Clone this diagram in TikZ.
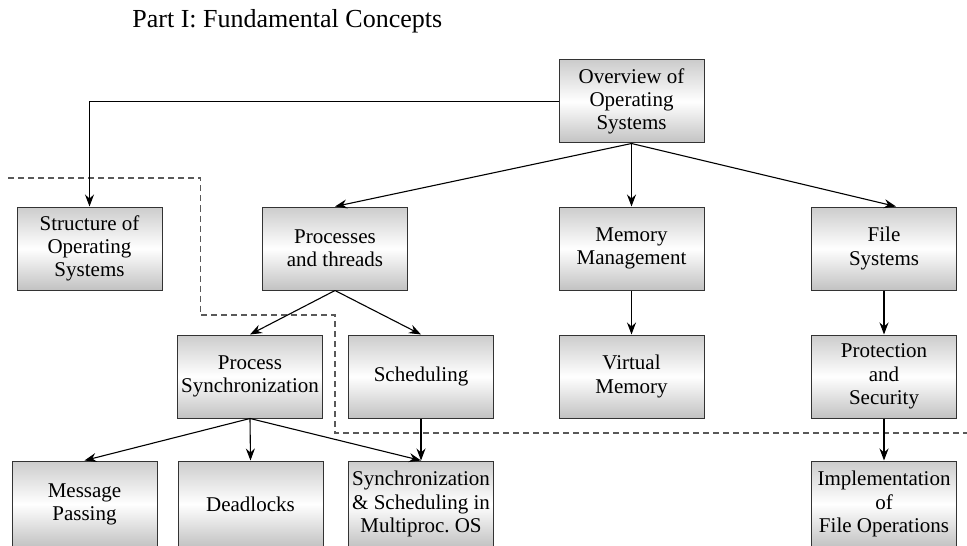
\documentclass[tikz,border=0pt]{standalone}
\usepackage{fontspec}
\setmainfont{Liberation Serif}
\usetikzlibrary{
  arrows.meta,
  calc,
  positioning}

\begin{document}
\begin{tikzpicture}[
      x=0.5pt, y=-0.5pt,
      font=\fontsize{10.5}{11.6}\selectfont,
      block/.style={
        rectangle,
        draw=black!80,
        line width=0.5pt,
        top color=black!20,
        bottom color=black!24,
        middle color=white,
        align=center,
        inner sep=1pt,
        minimum width=72.5pt,
        minimum height=41.5pt,
      },
      low-block/.style={
        minimum height=43pt,
      },
      link/.style={
        -{Stealth[length=6pt,width=4.5pt,inset=2pt]},
        line width=0.55pt,
      },
      boundary/.style={
        draw=black!65,
        dashed,
        dash pattern=on 3pt off 2pt,
        line width=0.6pt,
      },
    ]
    \useasboundingbox (0,0) rectangle (967,545);
    \clip (0,0) rectangle (967,545);
    \coordinate (overview) at (631.5,101.5);
    \coordinate (structure) at (89.5,248.5);
    \coordinate (processes) at (335,248.5);
    \coordinate (memory) at (631.5,248.5);
    \coordinate (files) at (884,248.5);
    \coordinate (psync) at (250,376.5);
    \coordinate (sched) at (421,376.5);
    \coordinate (virtual) at (631.5,376.5);
    \coordinate (protect) at (884,376.5);
    \coordinate (message) at (84.5,504);
    \coordinate (deadlock) at (250.5,504);
    \coordinate (multi) at (421,504);
    \coordinate (implement) at (884,504);
    \node[anchor=base west, inner sep=0pt, font=\fontsize{13}{14}\selectfont] (title-node) at (132,28) {Part I: Fundamental Concepts};
    \node[block] (overview-node) at (overview) {Overview of\\Operating\\Systems};
    \node[block] (structure-node) at (structure) {Structure of\\Operating\\Systems};
    \node[block] (processes-node) at (processes) {Processes\\and threads};
    \node[block] (memory-node) at (memory) {Memory\\Management};
    \node[block] (files-node) at (files) {File\\Systems};
    \node[block] (psync-node) at (psync) {Process\\Synchronization};
    \node[block] (sched-node) at (sched) {Scheduling};
    \node[block] (virtual-node) at (virtual) {Virtual\\Memory};
    \node[block] (protect-node) at (protect) {Protection\\and\\Security};
    \node[block, low-block] (message-node) at (message) {Message\\Passing};
    \node[block, low-block] (deadlock-node) at (deadlock) {Deadlocks};
    \node[block, low-block] (multi-node) at (multi) {Synchronization\\\& Scheduling in\\Multiproc.\ OS};
    \node[block, low-block] (implement-node) at (implement) {Implementation\\of\\File Operations};
    % dashed border of part I
    \draw[boundary] (8,178) -| (200.5,315) -| (335,433) -- (967,433);
    \draw[link] (overview-node.west) -| (structure-node.north);
    \draw[link] (overview-node.south) -- (processes-node.north);
    \draw[link] (overview-node.south) -- (memory-node.north);
    \draw[link] (overview-node.south) -- ($(files-node.north) + (12,0)$);
    \draw[link] (processes-node.south) -- (psync-node.north);
    \draw[link] (processes-node.south) -- (sched-node.north);
    \draw[link] (memory-node) -- (virtual-node);
    \draw[link] (files-node) -- (protect-node);
    \draw[link] (protect-node) -- (implement-node);
    \draw[link] (psync-node.south) -- (message-node.north);
    \draw[link] (psync-node.south) -- (deadlock-node.north);
    \draw[link] (psync-node.south) -- (multi-node.north);
    \draw[link] (sched-node) -- (multi-node);
  \end{tikzpicture}
\end{document}
